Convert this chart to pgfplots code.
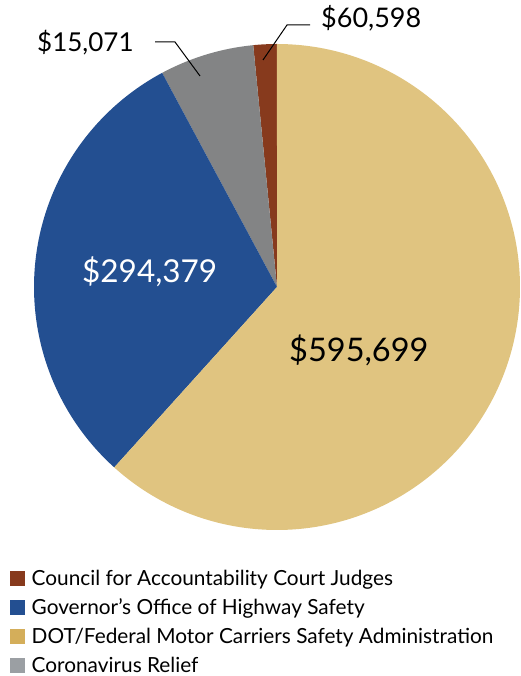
\documentclass[border=0pt]{standalone}
\usepackage{pgfplots}
\pgfplotsset{compat=1.18}
\usepackage{fontspec}
\setmainfont{Lato}
\definecolor{cbrown}{HTML}{873A1D}
\definecolor{cblue}{HTML}{234F91}
\definecolor{cgold}{HTML}{E0C480}
\definecolor{cgray}{HTML}{838485}
\definecolor{lgold}{HTML}{D4AE5A}
\definecolor{lgray}{HTML}{9B9FA3}
% slice values (counter-clockwise from 12 o'clock)
\def\vA{15071}   % brown
\def\vB{60598}   % gray
\def\vC{294379}  % blue
\def\vD{595699}  % gold
\edef\tot{\fpeval{\vA+\vB+\vC+\vD}}
\edef\aA{90}
\edef\aB{\fpeval{round(90+360*\vA/\tot,4)}}
\edef\aC{\fpeval{round(90+360*(\vA+\vB)/\tot,4)}}
\edef\aD{\fpeval{round(90+360*(\vA+\vB+\vC)/\tot,4)}}
\edef\aE{450}
\begin{document}
\begin{tikzpicture}[x=1pt,y=1pt]
\useasboundingbox (0,0) rectangle (520,676);
\begin{axis}[at={(34pt,146pt)},anchor=south west,scale only axis,
  width=486pt,height=486pt,xmin=-1,xmax=1,ymin=-1,ymax=1,hide axis,
  clip=false]
\addplot[fill=cbrown,draw=none,domain=\aA:\aB,samples=20] ({cos(x)},{sin(x)}) -- (axis cs:0,0) -- cycle;
\addplot[fill=cgray,draw=none,domain=\aB:\aC,samples=40] ({cos(x)},{sin(x)}) -- (axis cs:0,0) -- cycle;
\addplot[fill=cblue,draw=none,domain=\aC:\aD,samples=120] ({cos(x)},{sin(x)}) -- (axis cs:0,0) -- cycle;
\addplot[fill=cgold,draw=none,domain=\aD:\aE,samples=200] ({cos(x)},{sin(x)}) -- (axis cs:0,0) -- cycle;
\end{axis}
% clipped heading at top
\node[anchor=base east,font=\fontsize{20}{22}\selectfont,inner sep=0] at (191,680) {Funding (\$000)};
% labels
\node[anchor=west,font=\fontsize{27}{30}\selectfont,inner sep=0] at (321,658) {\$60,598};
\node[anchor=west,font=\fontsize{26}{29}\selectfont,inner sep=0] at (37,633) {\$15,071};
\draw[line width=1pt] (263,616) -- (287,651) -- (310,651);
\draw[line width=1pt] (155,634) -- (175,634) -- (200,600);
\node[anchor=west,font=\fontsize{31.5}{34}\selectfont,text=white,inner sep=0] at (82,404) {\$294,379};
\node[anchor=west,font=\fontsize{32.5}{35}\selectfont,inner sep=0] at (289,326) {\$595,699};
% legend
\foreach \y/\c/\t in {97.5/cbrown/{Council for Accountability Court Judges},
  68.5/cblue/{Governor’s Office of Highway Safety},
  39.5/lgold/{DOT/Federal Motor Carriers Safety Administration},
  10.5/lgray/{Coronavirus Relief}}{
  \fill[\c] (10,\y-7.5) rectangle (25,\y+7.5);
  \node[anchor=base west,font=\fontsize{20.8}{23}\selectfont,inner sep=0,text depth=0pt] at (31.5,\y-7.3) {\t};
}
\end{tikzpicture}
\end{document}
